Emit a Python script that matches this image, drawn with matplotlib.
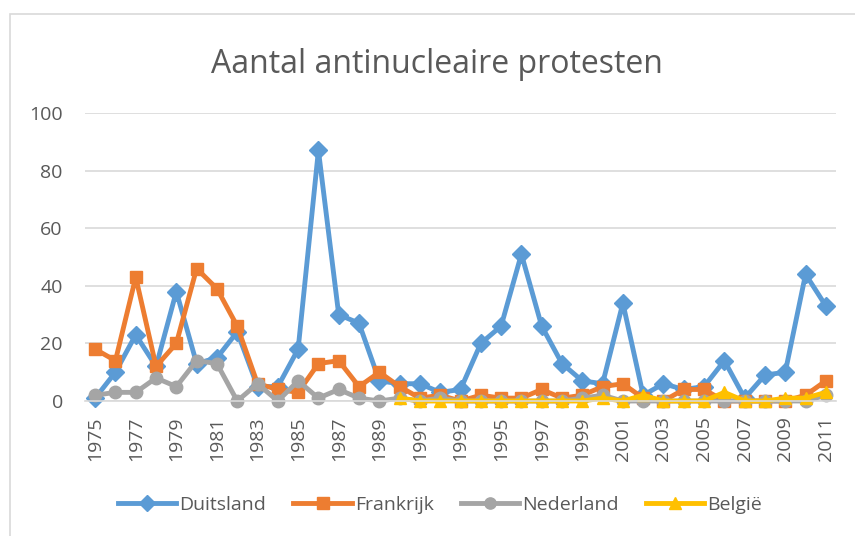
import numpy as np
import matplotlib
matplotlib.use("Agg")
import matplotlib.pyplot as plt
from matplotlib.patches import Rectangle

# data
years = list(range(1975, 2012))
duitsland = [1, 10, 23, 12, 38, 13, 15, 24, 5, 5, 18, 87, 30, 27, 7, 6, 6, 3, 4, 20,
             26, 51, 26, 13, 7, 6, 34, 2, 6, 4, 5, 14, 1, 9, 10, 44, 33]
frankrijk = [18, 14, 43, 12, 20, 46, 39, 26, 6, 4, 3, 13, 14, 5, 10, 5, 1, 2, 0, 2,
             1, 1, 4, 1, 2, 5, 6, 1, 0, 4, 4, 0, 0, 0, 0, 2, 7]
nederland = [2, 3, 3, 8, 5, 14, 13, 0, 6, 0, 7, 1, 4, 1, 0, 1, 0, 1, 0, 0,
             0, 0, 0, 0, 1, 2, 0, 0, 0, 0, 0, 0, 0, 0, 0, 0, 2]
belgie = [np.nan] * 15 + [1, 0, 0, 0, 0, 0, 0, 0, 0, 0, 1, 0, 2, 0, 0, 0, 3, 0, 0, 1, 1, 3]

series = [
    ("Duitsland", duitsland, "#5B9BD5", "D", 9),
    ("Frankrijk", frankrijk, "#ED7D31", "s", 9),
    ("Nederland", nederland, "#A5A5A5", "o", 9),
    ("België", belgie, "#FFC000", "^", 9),
]

plt.rcParams["font.family"] = ["Open Sans", "DejaVu Sans"]

fig = plt.figure(figsize=(8.55, 5.36), dpi=100)
# chart area border
fig.patches.append(Rectangle((10 / 855, -0.1), 1.0, (536 - 14) / 536 + 0.1,
                             transform=fig.transFigure, fill=False,
                             edgecolor="#D9D9D9", linewidth=1.2))

ax = fig.add_axes([85 / 855, (536 - 401) / 536, 751 / 855, 288 / 536])
x = np.arange(len(years))
for name, vals, color, marker, ms in series:
    ax.plot(x, vals, color=color, linewidth=3.5, marker=marker, markersize=ms,
            label=name, clip_on=False, solid_joinstyle="round")

ax.set_xlim(-0.5, len(years) - 0.5)
ax.set_ylim(0, 100)
ax.set_yticks(range(0, 101, 20))
ax.set_xticks(x[::2])
ax.set_xticklabels([str(y) for y in years[::2]], rotation=90)
ax.tick_params(axis="both", length=0, labelsize=14, colors="#595959")
ax.tick_params(axis="x", pad=11)
ax.tick_params(axis="y", pad=16)
ax.grid(axis="y", color="#D9D9D9", linewidth=1.2)
ax.set_axisbelow(True)
for side in ["top", "right", "left"]:
    ax.spines[side].set_visible(False)
ax.spines["bottom"].set_color("#D9D9D9")
ax.spines["bottom"].set_linewidth(1.2)

fig.text(437 / 855, 1 - 73 / 536, "Aantal antinucleaire protesten", ha="center", va="baseline",
         fontsize=23, color="#595959")

fig.legend(loc="center", bbox_to_anchor=(440 / 855, 1 - 505 / 536), ncol=4, frameon=False,
           fontsize=14, labelcolor="#595959", handlelength=3.0, handletextpad=0.15,
           columnspacing=1.4, markerscale=0.9)

fig.savefig("out.png", dpi=100)
